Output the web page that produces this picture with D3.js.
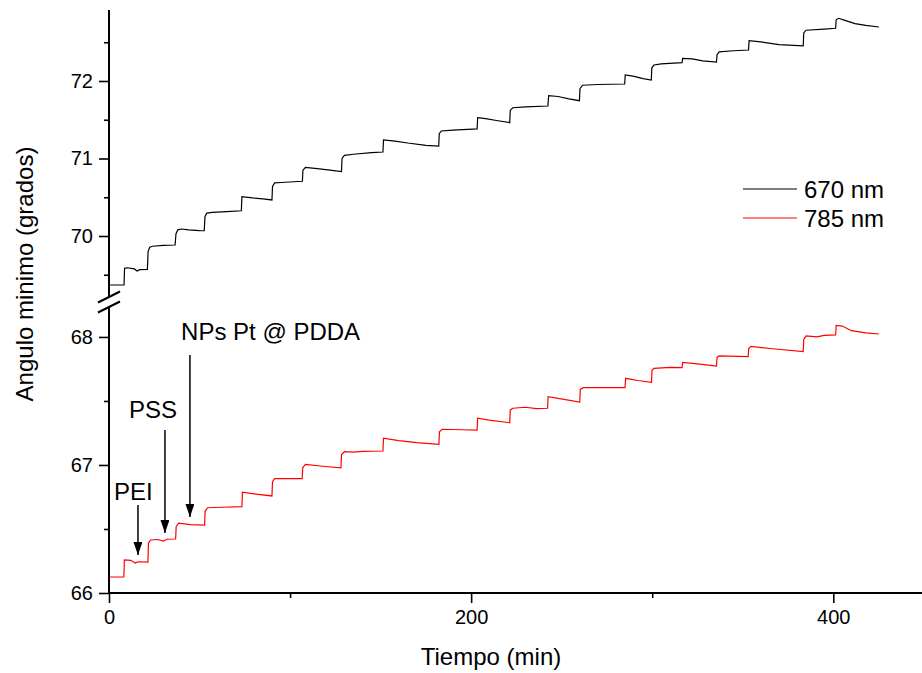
<!DOCTYPE html>
<html>
<head>
<meta charset="utf-8">
<script src="https://cdn.jsdelivr.net/npm/d3@7"></script>
<style>
body { margin: 0; background: #fff; }
text { font-family: "Liberation Sans", Arial, sans-serif; fill: #000; }
</style>
</head>
<body>
<script>
var width = 922,
    height = 673;

// Serie 670 nm: tiempo (min) y angulo minimo (grados)
var t670 = [0, 8.3, 8.6, 10, 14, 15.5, 17, 21.2, 21.6, 22.5, 24, 30, 36.5, 37.0, 38, 40, 44, 50, 52.6,
    53.0, 54, 57, 65, 73.1, 73.4, 78, 85, 90.0, 90.3, 91.5, 95, 102, 106.8, 107.1, 108.5, 115, 122,
    128.4, 128.7, 130, 135, 145, 151.3, 151.6, 158, 165, 175, 182.1, 182.4, 183.5, 190, 198, 203.3,
    203.6, 208, 214, 221.3, 221.6, 223, 230, 242.4, 242.8, 248, 254, 259.8, 260.1, 261.5, 270, 284.8,
    285.1, 290, 295, 299.5, 299.8, 301, 305, 316.5, 316.8, 322, 328, 335.5, 335.8, 337, 345, 353.2,
    353.5, 360, 370, 383.4, 383.7, 385, 395, 401.3, 401.6, 403, 406, 412, 418, 425.2];
var v670 = [69.368, 69.368, 69.583, 69.590, 69.575, 69.548, 69.565, 69.570, 69.800, 69.855, 69.868,
    69.878, 69.884, 70.030, 70.080, 70.090, 70.080, 70.070, 70.068, 70.250, 70.295, 70.305, 70.315,
    70.326, 70.507, 70.495, 70.478, 70.465, 70.640, 70.685, 70.690, 70.700, 70.706, 70.850, 70.886,
    70.870, 70.850, 70.830, 71.000, 71.040, 71.055, 71.075, 71.084, 71.239, 71.225, 71.200, 71.170,
    71.161, 71.320, 71.355, 71.365, 71.375, 71.381, 71.526, 71.515, 71.490, 71.462, 71.620, 71.655,
    71.665, 71.677, 71.810, 71.800, 71.770, 71.746, 71.900, 71.945, 71.955, 71.961, 72.077, 72.060,
    72.030, 72.013, 72.170, 72.206, 72.220, 72.236, 72.293, 72.285, 72.260, 72.245, 72.340, 72.375,
    72.390, 72.400, 72.520, 72.505, 72.470, 72.452, 72.620, 72.655, 72.670, 72.680, 72.790, 72.809,
    72.785, 72.740, 72.718, 72.697];

// Serie 785 nm
var t785 = [0, 8.2, 8.5, 12, 14.5, 16, 21.5, 21.8, 23, 27, 30, 32, 36.8, 37.1, 38.5, 45, 52.8, 53.1,
    54.5, 62, 73.4, 73.7, 80, 90.0, 90.3, 91.5, 100, 106.7, 107.0, 108.5, 118, 128.1, 128.4, 130, 135,
    140, 151.3, 151.6, 160, 170, 182.2, 182.5, 184, 195, 203.3, 203.6, 210, 221.3, 221.6, 223, 230,
    236, 242.2, 242.5, 248, 260.0, 260.3, 262, 285, 285.3, 292, 299.6, 299.9, 301, 310, 316.5, 316.8,
    325, 335.5, 335.8, 337, 353, 353.3, 354.5, 365, 383.4, 383.7, 385, 391, 395, 401.3, 401.6, 405,
    410, 418, 425.2];
var v785 = [66.125, 66.125, 66.258, 66.255, 66.234, 66.244, 66.242, 66.390, 66.414, 66.418, 66.406,
    66.420, 66.422, 66.520, 66.545, 66.534, 66.531, 66.640, 66.666, 66.670, 66.674, 66.787, 66.775,
    66.758, 66.870, 66.893, 66.893, 66.893, 66.980, 67.005, 66.990, 66.977, 67.080, 67.104, 67.100,
    67.106, 67.109, 67.209, 67.190, 67.175, 67.162, 67.260, 67.279, 67.275, 67.273, 67.365, 67.350,
    67.330, 67.430, 67.443, 67.451, 67.440, 67.443, 67.534, 67.520, 67.492, 67.590, 67.604, 67.604,
    67.677, 67.660, 67.646, 67.740, 67.755, 67.763, 67.760, 67.802, 67.790, 67.773, 67.840, 67.852,
    67.846, 67.910, 67.927, 67.910, 67.885, 67.980, 68.008, 68.000, 68.012, 68.016, 68.091, 68.085,
    68.049, 68.032, 68.023];

var xTicks = [0, 200, 400];
var xMinor = [100, 300];
var yTicksTop = [70, 71, 72];
var yMinorTop = [69.5, 70.5, 71.5, 72.5];
var yTicksBottom = [66, 67, 68];
var yMinorBottom = [66.5, 67.5];

var seriesNames = ["670 nm", "785 nm"];
var seriesColors = ["#000000", "#ff0000"];

// flechas: texto, tiempo de la flecha, punta, cola (en grados de la escala inferior)
var notes = [
    {label: "PEI", textT: 13.5, textV: 66.727, anchor: "middle", t: 16.0, tip: 66.297, tail: 66.688},
    {label: "PSS", textT: 24.3, textV: 67.367, anchor: "middle", t: 30.9, tip: 66.469, tail: 67.273},
    {label: "NPs Pt @ PDDA", textT: 39.8, textV: 67.977, anchor: "start", t: 44.7, tip: 66.594, tail: 67.86}
];

var x = d3.scaleLinear().domain([0, 449]).range([109, 922]);
var yTop = d3.scaleLinear().domain([69.213, 72.916]).range([297, 10]);
var yBottom = d3.scaleLinear().domain([66, 68.234]).range([593, 307]);

var svg = d3.select("body").append("svg")
    .attr("width", width)
    .attr("height", height);

svg.append("defs").append("marker")
    .attr("id", "head")
    .attr("markerUnits", "userSpaceOnUse")
    .attr("markerWidth", 14)
    .attr("markerHeight", 10)
    .attr("refX", 13)
    .attr("refY", 4.5)
    .attr("orient", "auto")
    .append("path")
    .attr("d", "M0,0 L13,4.5 L0,9 Z")
    .attr("fill", "#000");

// Curvas
var lineTop = d3.line().x(d => x(d[0])).y(d => yTop(d[1]));
var lineBottom = d3.line().x(d => x(d[0])).y(d => yBottom(d[1]));

svg.append("path")
    .datum(d3.zip(t670, v670))
    .attr("d", lineTop)
    .attr("fill", "none")
    .attr("stroke", seriesColors[0])
    .attr("stroke-width", 1.2);

svg.append("path")
    .datum(d3.zip(t785, v785))
    .attr("d", lineBottom)
    .attr("fill", "none")
    .attr("stroke", seriesColors[1])
    .attr("stroke-width", 1.2);

// Ejes
var styleAxis = function(g) {
    g.select(".domain").remove();
    g.selectAll(".tick line").attr("stroke", "#000").attr("stroke-width", 1.6);
    g.selectAll(".tick text").attr("font-size", 20).attr("fill", "#000")
        .style("font-family", "'Liberation Sans', Arial, sans-serif");
};

svg.append("g").attr("transform", "translate(" + x(0) + ",0)")
    .call(d3.axisLeft(yTop).tickValues(yTicksTop).tickSize(10).tickPadding(6).tickFormat(d3.format("d")))
    .call(styleAxis);
svg.append("g").attr("transform", "translate(" + x(0) + ",0)")
    .call(d3.axisLeft(yTop).tickValues(yMinorTop).tickSize(5).tickFormat(""))
    .call(styleAxis);
svg.append("g").attr("transform", "translate(" + x(0) + ",0)")
    .call(d3.axisLeft(yBottom).tickValues(yTicksBottom).tickSize(10).tickPadding(6).tickFormat(d3.format("d")))
    .call(styleAxis);
svg.append("g").attr("transform", "translate(" + x(0) + ",0)")
    .call(d3.axisLeft(yBottom).tickValues(yMinorBottom).tickSize(5).tickFormat(""))
    .call(styleAxis);

svg.append("g").attr("transform", "translate(0," + yBottom(66) + ")")
    .call(d3.axisBottom(x).tickValues(xTicks).tickSize(10).tickPadding(7))
    .call(styleAxis);
svg.append("g").attr("transform", "translate(0," + yBottom(66) + ")")
    .call(d3.axisBottom(x).tickValues(xMinor).tickSize(5).tickFormat(""))
    .call(styleAxis);

// lineas de los ejes, con el corte
var axes = svg.append("g").attr("stroke", "#000").attr("stroke-width", 2);
axes.append("line")
    .attr("x1", x(0)).attr("x2", x(0))
    .attr("y1", yTop.range()[1]).attr("y2", yTop.range()[0]);
axes.append("line")
    .attr("x1", x(0)).attr("x2", x(0))
    .attr("y1", yBottom.range()[1]).attr("y2", yBottom.range()[0] + 1);
axes.append("line")
    .attr("x1", x(0) - 1).attr("x2", x.range()[1])
    .attr("y1", yBottom(66)).attr("y2", yBottom(66));
[yTop.range()[0], yBottom.range()[1]].forEach(function(yb) {
    axes.append("line")
        .attr("x1", x(0) - 11).attr("y1", yb + 5.5)
        .attr("x2", x(0) + 11).attr("y2", yb - 5.5);
});

// Titulos
svg.append("text")
    .attr("x", 491)
    .attr("y", 665)
    .attr("text-anchor", "middle")
    .attr("font-size", 24)
    .text("Tiempo (min)");

svg.append("text")
    .attr("transform", "translate(33,274) rotate(-90)")
    .attr("text-anchor", "middle")
    .attr("font-size", 24)
    .text("Angulo minimo (grados)");

// Leyenda
seriesNames.forEach(function(name, i) {
    var ly = 189 + i * 29;
    svg.append("line")
        .attr("x1", 743).attr("x2", 797)
        .attr("y1", ly).attr("y2", ly)
        .attr("stroke", seriesColors[i])
        .attr("stroke-width", 1.2);
    svg.append("text")
        .attr("x", 804)
        .attr("y", ly + 8.5)
        .attr("font-size", 24)
        .text(name);
});

// Anotaciones con flechas
notes.forEach(function(n) {
    svg.append("text")
        .attr("x", x(n.textT))
        .attr("y", yBottom(n.textV))
        .attr("text-anchor", n.anchor)
        .attr("font-size", 24)
        .text(n.label);
    svg.append("line")
        .attr("x1", x(n.t)).attr("x2", x(n.t))
        .attr("y1", yBottom(n.tail)).attr("y2", yBottom(n.tip))
        .attr("stroke", "#000")
        .attr("stroke-width", 1.5)
        .attr("marker-end", "url(#head)");
});
</script>
</body>
</html>
